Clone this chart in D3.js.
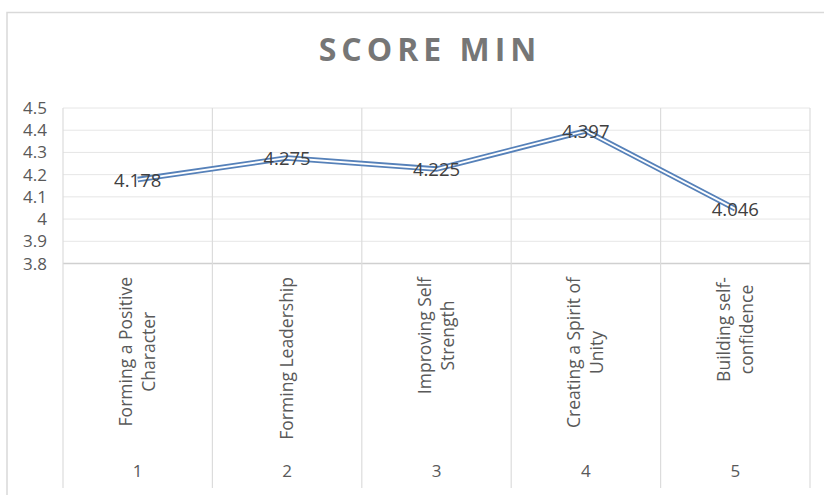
<!DOCTYPE html>
<html>
<head>
<meta charset="utf-8">
<script src="https://cdn.jsdelivr.net/npm/d3@7"></script>
<style>
  body { margin: 0; background: #fff; }
  svg { display: block; font-family: "Open Sans", sans-serif; }
</style>
</head>
<body>
<svg id="chart" width="824" height="495"></svg>
<script>
// chart values
const categories = ["1", "2", "3", "4", "5"];
const catLabels = [
  ["Forming a Positive", "Character"],
  ["Forming Leadership"],
  ["Improving Self", "Strength"],
  ["Creating a Spirit of", "Unity"],
  ["Building self-", "confidence"]
];
const scores = [4.178, 4.275, 4.225, 4.397, 4.046];
const yTicks = [3.8, 3.9, 4, 4.1, 4.2, 4.3, 4.4, 4.5];

const svg = d3.select("#chart");
const plot = { left: 63, right: 810, top: 108, bottom: 263.5, axisBottom: 488 };

// outer chart frame
svg.append("rect")
  .attr("x", 7).attr("y", 12.5)
  .attr("width", 830).attr("height", 500)
  .attr("fill", "none").attr("stroke", "#d9d9d9").attr("stroke-width", 1.5);

svg.append("text")
  .attr("x", 430).attr("y", 61)
  .attr("text-anchor", "middle")
  .attr("fill", "#767676")
  .style("font-size", "32px").style("font-weight", "700")
  .style("letter-spacing", "5px")
  .text("SCORE MIN");

const x = d3.scaleBand().domain(categories).range([plot.left, plot.right]);
const y = d3.scaleLinear().domain([3.8, 4.5]).range([plot.bottom, plot.top]);

// horizontal gridlines
svg.append("g").selectAll("line")
  .data(yTicks)
  .join("line")
  .attr("x1", plot.left).attr("x2", plot.right)
  .attr("y1", d => y(d)).attr("y2", d => y(d))
  .attr("stroke", d => d === 3.8 ? "#d0d0d0" : "#e6e6e6")
  .attr("stroke-width", d => d === 3.8 ? 1.5 : 1);

// vertical separators (plot + category area)
const bounds = categories.map(c => x(c)).concat([plot.right]);
svg.append("g").selectAll("line")
  .data(bounds)
  .join("line")
  .attr("x1", d => d).attr("x2", d => d)
  .attr("y1", plot.top).attr("y2", plot.axisBottom)
  .attr("stroke", "#dcdcdc").attr("stroke-width", 1.2);

// y tick labels
svg.append("g").selectAll("text")
  .data(yTicks)
  .join("text")
  .attr("x", 47).attr("y", d => y(d) + 6)
  .attr("text-anchor", "end")
  .attr("fill", "#595959")
  .style("font-size", "17px")
  .text(d => String(d));

// rotated category labels
const cx = c => x(c) + x.bandwidth() / 2;
const lab = svg.append("g").selectAll("g")
  .data(catLabels)
  .join("g")
  .attr("transform", (d, i) => `translate(${cx(categories[i])},277) rotate(-90)`);

lab.each(function(lines) {
  const g = d3.select(this);
  const n = lines.length;
  const t = g.selectAll("text").data(lines).join("text")
    .attr("text-anchor", "middle")
    .attr("y", (d, j) => (j - (n - 1) / 2) * 23 + 6)
    .attr("fill", "#595959")
    .style("font-size", "17.5px")
    .text(d => d);
  const maxLen = d3.max(t.nodes(), nd => nd.getComputedTextLength());
  t.attr("x", -maxLen / 2);
});

// category numbers
svg.append("g").selectAll("text")
  .data(categories)
  .join("text")
  .attr("x", d => cx(d)).attr("y", 477)
  .attr("text-anchor", "middle")
  .attr("fill", "#595959")
  .style("font-size", "17px")
  .text(d => d);

// double line (Excel compound line)
const line = d3.line().x((d, i) => cx(categories[i])).y(d => y(d));
svg.append("path").datum(scores)
  .attr("d", line).attr("fill", "none")
  .attr("stroke", "#5681b9").attr("stroke-width", 5.5)
  .attr("stroke-linejoin", "miter");
svg.append("path").datum(scores)
  .attr("d", line).attr("fill", "none")
  .attr("stroke", "#ffffff").attr("stroke-width", 1.8)
  .attr("stroke-linejoin", "miter");

// data labels
svg.append("g").selectAll("text")
  .data(scores)
  .join("text")
  .attr("x", (d, i) => cx(categories[i]))
  .attr("y", d => y(d) + 7)
  .attr("text-anchor", "middle")
  .attr("fill", "#404040")
  .style("font-size", "18.5px")
  .text(d => String(d));
</script>
</body>
</html>
